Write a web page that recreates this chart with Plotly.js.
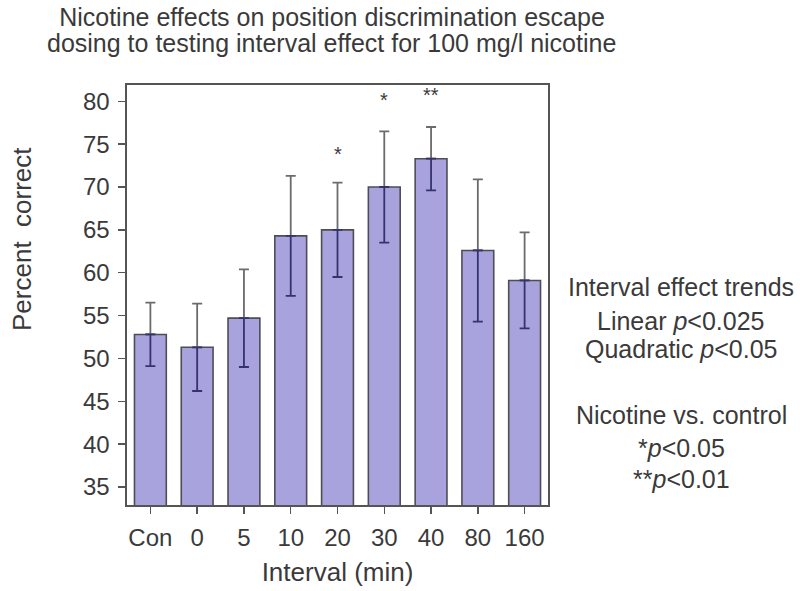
<!DOCTYPE html>
<html>
<head>
<meta charset="utf-8">
<script src="https://cdn.plot.ly/plotly-3.0.1.min.js"></script>
<style>body{margin:0;padding:0;background:#fff;} #chart{width:800px;height:591px;}</style>
</head>
<body>
<div id="chart"></div>
<script>
const categories = ["Con", "0", "5", "10", "20", "30", "40", "80", "160"];
const percentCorrect = [52.8, 51.3, 54.7, 64.3, 65.0, 70.0, 73.3, 62.6, 59.1];
const errorSEM = [3.7, 5.1, 5.7, 7.0, 5.5, 6.5, 3.7, 8.3, 5.6];
const significance = ["", "", "", "", "*", "*", "**", "", ""];
const starLevels = [0, 0, 0, 0, 73.9, 80.2, 80.7, 0, 0];
const yTicks = [35, 40, 45, 50, 55, 60, 65, 70, 75, 80];

const zeros = categories.map(() => 0);
const fontFam = 'Liberation Sans, Arial, sans-serif';
const txtColor = '#3a3a3a';

const traces = [
  {
    type: 'bar', x: categories, y: percentCorrect, width: 0.68,
    marker: {color: '#a9a3dd', line: {color: '#4d4d55', width: 1.6}},
    hoverinfo: 'skip', showlegend: false
  },
  {
    type: 'scatter', mode: 'markers', x: categories, y: percentCorrect,
    marker: {size: 0.1, color: 'rgba(0,0,0,0)'},
    error_y: {type: 'data', symmetric: false, array: errorSEM, arrayminus: zeros,
              color: '#6b6b6b', thickness: 1.8, width: 5},
    showlegend: false, hoverinfo: 'skip'
  },
  {
    type: 'scatter', mode: 'markers', x: categories, y: percentCorrect,
    marker: {size: 0.1, color: 'rgba(0,0,0,0)'},
    error_y: {type: 'data', symmetric: false, array: zeros, arrayminus: errorSEM,
              color: '#33336e', thickness: 1.8, width: 5},
    showlegend: false, hoverinfo: 'skip'
  }
];

const annotations = [];
categories.forEach((c, i) => {
  if (significance[i]) {
    annotations.push({x: i, y: starLevels[i], xref: 'x', yref: 'y', text: significance[i],
      showarrow: false, font: {family: fontFam, size: 20, color: txtColor}});
  }
});

// second title line
annotations.push({xref: 'paper', yref: 'paper', x: (331 - 127) / 421, y: (505 - 43) / 420,
  text: 'dosing to testing interval effect for 100 mg/l nicotine', showarrow: false,
  xanchor: 'center', yanchor: 'middle', font: {family: fontFam, size: 25, color: txtColor}});

// y-axis title (placed off-centre as in the reference)
annotations.push({xref: 'paper', yref: 'paper', x: (22 - 127) / 421, y: (505 - 239) / 420,
  text: 'Percent  correct', textangle: -90, showarrow: false,
  xanchor: 'center', yanchor: 'middle', font: {family: fontFam, size: 26, color: txtColor}});

const rightLines = [
  ['Interval effect trends', 287],
  ['Linear <i>p</i><0.025', 321],
  ['Quadratic <i>p</i><0.05', 349],
  ['Nicotine vs. control', 415],
  ['*<i>p</i><0.05', 448],
  ['**<i>p</i><0.01', 479]
];
rightLines.forEach(([t, py]) => {
  annotations.push({xref: 'paper', yref: 'paper', x: (681 - 127) / 421, y: (505 - py) / 420,
    text: t, showarrow: false, xanchor: 'center', yanchor: 'middle',
    font: {family: fontFam, size: 25, color: txtColor}});
});

const layout = {
  width: 800, height: 591,
  margin: {l: 127, r: 252, t: 85, b: 86},
  paper_bgcolor: '#fff', plot_bgcolor: '#fff',
  title: {text: 'Nicotine effects on position discrimination escape',
          x: 332 / 800, xanchor: 'center', y: 1 - 17 / 591, yanchor: 'middle',
          font: {family: fontFam, size: 25, color: txtColor}},
  xaxis: {
    type: 'category', range: [-0.5, 8.5],
    showline: true, mirror: true, linecolor: '#555', linewidth: 1.6,
    ticks: 'outside', ticklen: 7, tickcolor: '#555', tickwidth: 1.5,
    ticklabelstandoff: 4,
    showgrid: false, zeroline: false,
    tickfont: {family: fontFam, size: 24, color: txtColor},
    title: {text: 'Interval (min)', font: {family: fontFam, size: 26, color: txtColor}, standoff: 12}
  },
  yaxis: {
    range: [32.9, 81.9], tickvals: yTicks,
    showline: true, mirror: true, linecolor: '#555', linewidth: 1.6,
    ticks: 'outside', ticklen: 7, tickcolor: '#555', tickwidth: 1.5,
    ticklabelstandoff: 4,
    showgrid: false, zeroline: false,
    tickfont: {family: fontFam, size: 24, color: txtColor}
  },
  annotations: annotations
};

Plotly.newPlot('chart', traces, layout, {displayModeBar: false, staticPlot: true});
</script>
</body>
</html>
